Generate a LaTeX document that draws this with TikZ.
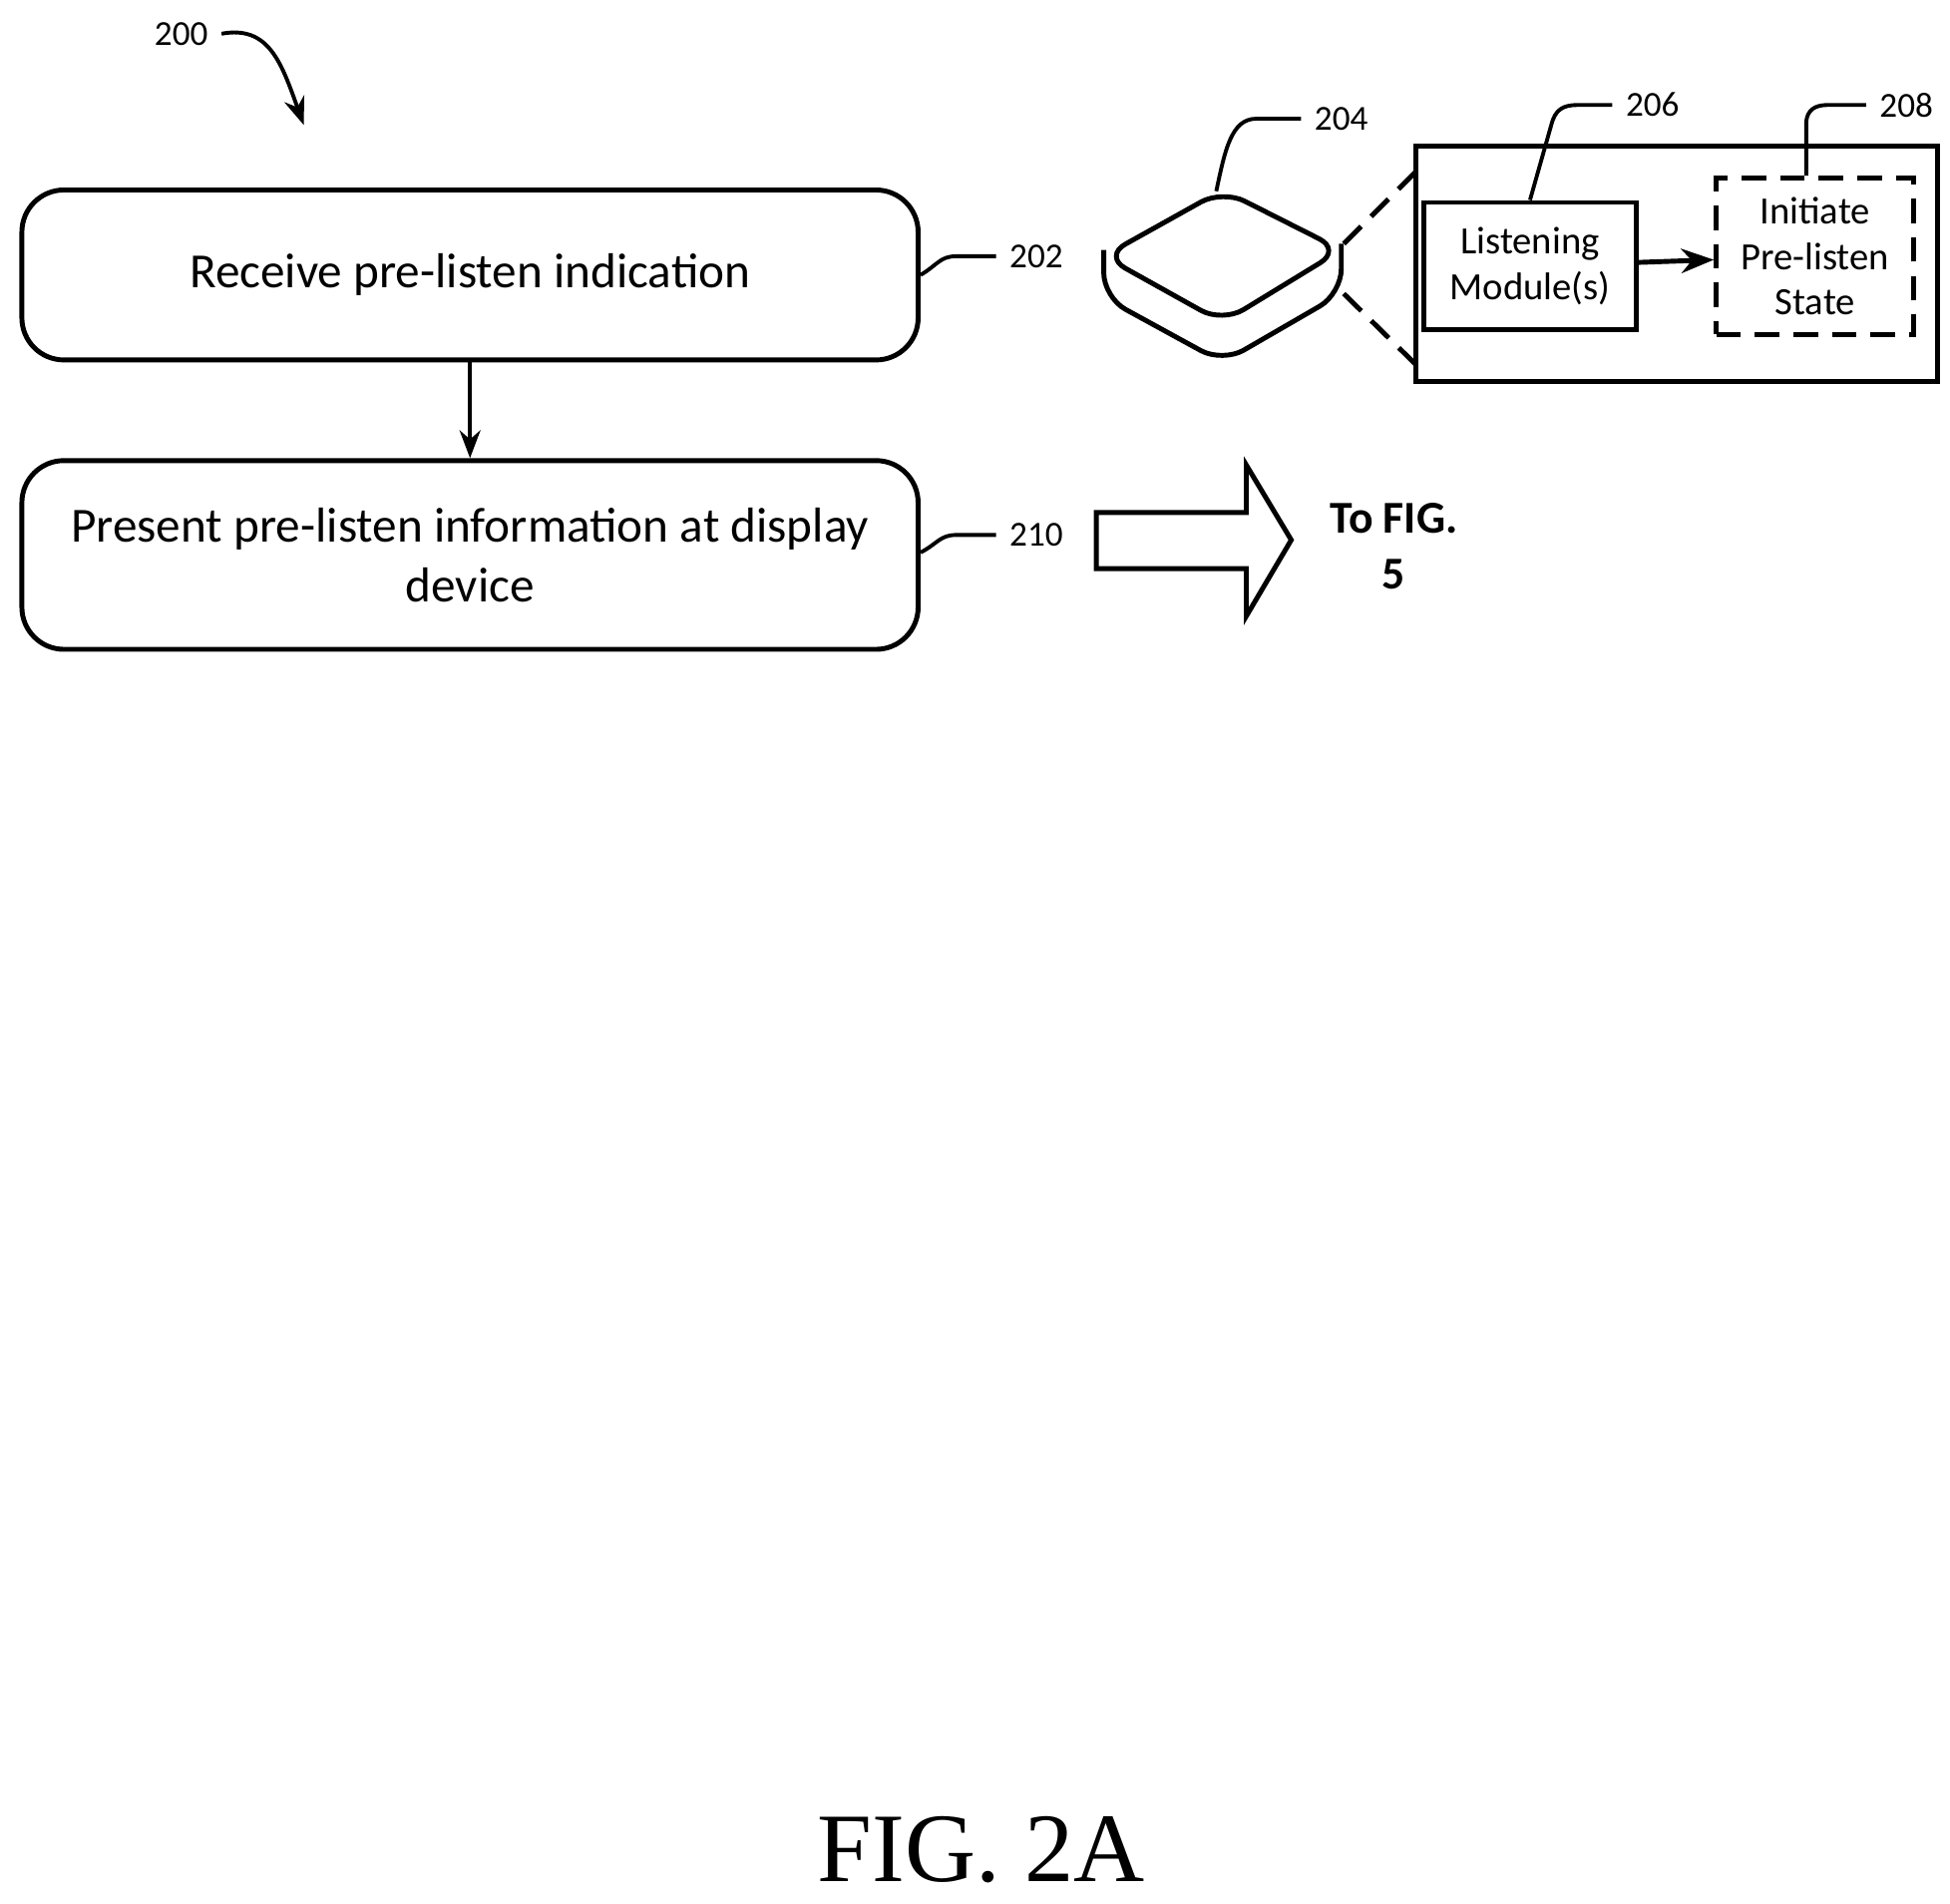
\documentclass[tikz,border=0pt]{standalone}
\usepackage{fontspec}
\setmainfont{Carlito}
\newfontfamily\capfont{Liberation Serif}
\usetikzlibrary{arrows.meta,positioning}

\begin{document}
\begin{tikzpicture}[
  x=0.01253cm, y=-0.01253cm,
  >=Stealth,
  line width=1.1pt,
  flowbox/.style={draw, rounded corners=12pt, line width=1.4pt, font=\fontsize{14}{17}\selectfont, align=center},
  mod/.style={draw, line width=1.4pt, font=\fontsize{11}{13}\selectfont, align=center},
  longdash/.style={dash pattern=on 7pt off 4pt},
  ref/.style={font=\fontsize{10}{12}\selectfont}
]
\useasboundingbox (0,0) rectangle (1560,1523);

% --- flow boxes
\node[flowbox, minimum width=717*0.01253cm, minimum height=136*0.01253cm] (recv) at (376,220) {Receive pre-listen indication};
\node[flowbox, minimum width=717*0.01253cm, minimum height=151*0.01253cm] (pres) at (376,444) {Present pre-listen information at display\\device};
\draw[->] (recv) -- (pres);

% --- reference numerals
\node[ref] (n200) at (145,27) {200};
\draw[->] (n200.east) .. controls (215,20) and (225,50) .. (243,100);
\node[ref] (n202) at (829,205) {202};
\draw (recv.east) .. controls (750,212) and (752,205) .. (765,205) -- (n202.west);
\node[ref] (n210) at (829,428) {210};
\draw (pres.east |- 0,442) .. controls (750,435) and (752,428) .. (765,428) -- (n210.west);

% --- hollow arrow and continuation
\draw[line width=1.4pt] (877,410) -- (997,410) -- (997,372) -- (1033,432) -- (997,493) -- (997,455) -- (877,455) -- cycle;
\node[font=\fontsize{13}{16}\selectfont\bfseries, align=center] (tofig) at (1115,437) {To FIG.\\5};

% --- device
\draw[line width=1.4pt, rounded corners=7pt] (883,205) -- (978,152) -- (1073,200) -- (978,258) -- cycle;
\draw[line width=1.4pt, rounded corners=7pt] (883,200) -- (883,238) -- (978,290) -- (1073,235) -- (1073,195);
\coordinate (devtop) at (973,153);
\node[ref] (n204) at (1073,95) {204};
\draw (devtop) .. controls (980,120) and (985,95) .. (1005,95) -- (n204.west);

% --- zoomed module view
\draw[line width=1.4pt] (1133,117) rectangle (1550,305);
\draw[longdash, line width=1.4pt] (1075,195) -- (1133,137);
\draw[longdash, line width=1.4pt] (1075,235) -- (1133,292);
\node[mod, minimum width=170*0.01253cm, minimum height=102*0.01253cm] (listen) at (1224,213) {Listening\\Module(s)};
\node[mod, longdash, minimum width=158*0.01253cm, minimum height=125*0.01253cm] (init) at (1452,205) {Initiate\\Pre-listen\\State};
\draw[->, line width=1.4pt] (listen) -- (init);
\node[ref] (n206) at (1322,84) {206};
\draw (listen.north) -- (1241,100) .. controls (1244,88) and (1250,84) .. (1262,84) -- (n206.west);
\node[ref] (n208) at (1525,84) {208};
\draw (init.north -| 1445,0) -- (1445,97) .. controls (1446,88) and (1452,84) .. (1462,84) -- (n208.west);

% --- caption
\node[font=\capfont\fontsize{28}{32}\selectfont] (cap) at (785,1480) {FIG. 2A};
\end{tikzpicture}
\end{document}
